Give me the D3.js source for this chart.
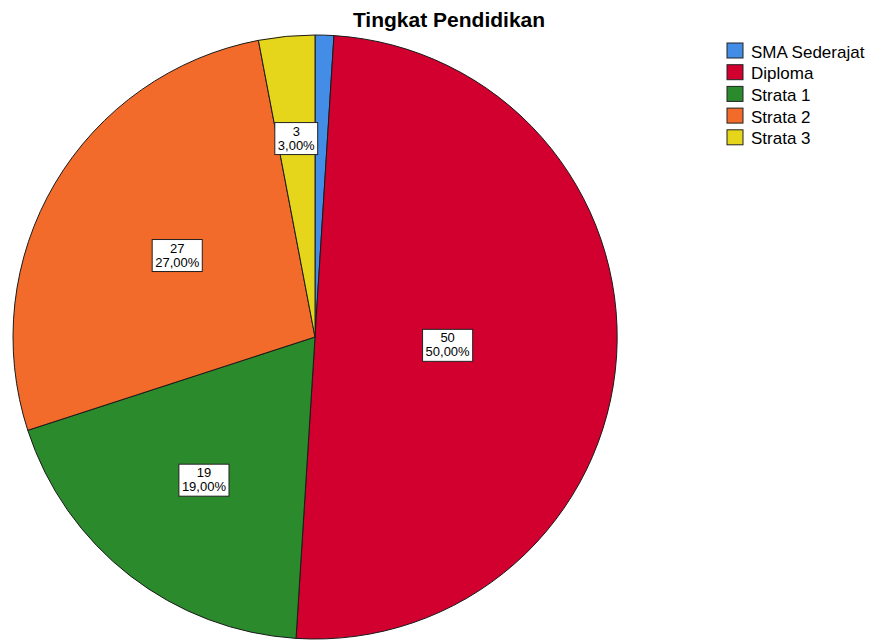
<!DOCTYPE html>
<html>
<head>
<meta charset="utf-8">
<script src="https://cdn.jsdelivr.net/npm/d3@7"></script>
<style>
  body { margin: 0; background: #fff; }
  text { font-family: "Liberation Sans", Arial, sans-serif; }
</style>
</head>
<body>
<div id="chart"></div>
<script>
const categories = ["SMA Sederajat", "Diploma", "Strata 1", "Strata 2", "Strata 3"];
const counts = [1, 50, 19, 27, 3];
const percentLabels = ["1,00%", "50,00%", "19,00%", "27,00%", "3,00%"];
const colors = ["#438de6", "#d1002f", "#2b8a2b", "#f26b2b", "#e5d61c"];

const width = 869;
const height = 640;
const cx = 315, cy = 337, radius = 302;
// label distance from centre, as fraction of radius (SPSS places them unevenly)
const labelR = [0.66, 0.44, 0.6, 0.53, 0.66];

const svg = d3.select("#chart").append("svg").attr("width", width).attr("height", height);

svg.append("text")
  .attr("x", 449).attr("y", 27)
  .attr("text-anchor", "middle")
  .attr("font-size", 21).attr("font-weight", "bold")
  .text("Tingkat Pendidikan");

const pie = d3.pie().sort(null).value(d => d);
const arcs = pie(counts);
const arc = d3.arc().innerRadius(0).outerRadius(radius);

const g = svg.append("g").attr("transform", `translate(${cx},${cy})`);

g.selectAll("path")
  .data(arcs)
  .enter()
  .append("path")
  .attr("d", arc)
  .attr("fill", (d, i) => colors[i])
  .attr("stroke", "#1a1a1a")
  .attr("stroke-width", 1);

// labels (the 1% slice has none)
arcs.forEach((d, i) => {
  if (i === 0) return;
  const a = (d.startAngle + d.endAngle) / 2;
  const r = radius * labelR[i];
  const x = Math.sin(a) * r, y = -Math.cos(a) * r;
  const lg = g.append("g").attr("transform", `translate(${x},${y})`);
  const t1 = lg.append("text").attr("text-anchor", "middle").attr("font-size", 13).attr("y", -3).text(counts[i]);
  const t2 = lg.append("text").attr("text-anchor", "middle").attr("font-size", 13).attr("y", 11).text(percentLabels[i]);
  const w = Math.max(t1.node().getComputedTextLength(), t2.node().getComputedTextLength()) + 6;
  lg.insert("rect", "text")
    .attr("x", -w / 2).attr("y", -16)
    .attr("width", w).attr("height", 32)
    .attr("fill", "#fff")
    .attr("stroke", "#222").attr("stroke-width", 1);
});

const legend = svg.append("g").attr("transform", "translate(727,43)");
const rows = legend.selectAll("g")
  .data(categories)
  .enter()
  .append("g")
  .attr("transform", (d, i) => `translate(0,${i * 21.7})`);

rows.append("rect")
  .attr("width", 16).attr("height", 15)
  .attr("fill", (d, i) => colors[i])
  .attr("stroke", "#222").attr("stroke-width", 1);

rows.append("text")
  .attr("x", 24).attr("y", 14.5)
  .attr("font-size", 17)
  .text(d => d);
</script>
</body>
</html>
